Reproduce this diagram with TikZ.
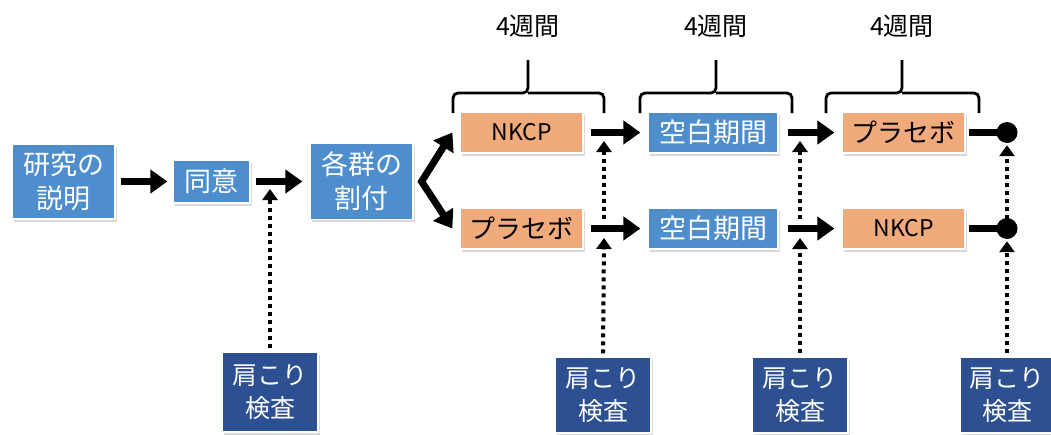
\documentclass[tikz,border=0pt]{standalone}
\usepackage{fontspec}
\setmainfont{Noto Sans CJK JP}
\usetikzlibrary{arrows.meta,shadows}
\definecolor{boxblue}{RGB}{79,142,204}
\definecolor{boxorange}{RGB}{241,170,124}
\definecolor{boxdark}{RGB}{44,80,145}
\tikzset{
  base/.style={draw=white,line width=1.2pt,inner sep=0pt,align=center,
    drop shadow={shadow xshift=2pt,shadow yshift=-2.5pt,opacity=0.3}},
  bluebox/.style={base,fill=boxblue,text=white,font=\fontsize{27}{34}\selectfont},
  orangebox/.style={base,fill=boxorange,text=black,minimum height=41pt},
  jp/.style={font=\fontsize{26}{30}\selectfont},
  lat/.style={font=\fontsize{23}{28}\selectfont},
  darkbox/.style={base,fill=boxdark,text=white,font=\fontsize{25}{33}\selectfont},
  tip/.style={Triangle[length=17pt,width=23pt]},
  bigarrow/.style={line width=7pt,-{Triangle[length=17pt,width=23pt]}},
  thickline/.style={line width=7pt},
  dotarrow/.style={line width=4pt,dash pattern=on 4pt off 4pt,
    -{Triangle[length=11pt,width=15pt]}},
  enddot/.style={circle,fill=black,minimum size=21pt,inner sep=0pt},
  brace/.style={line width=2.8pt,rounded corners=5pt},
  weeks/.style={font=\fontsize{25}{28}\selectfont}
}
\begin{document}
\begin{tikzpicture}[x=1pt,y=-1pt]
\useasboundingbox (0,0) rectangle (1051,434);
% main flow
\node[bluebox,minimum width=103pt,minimum height=75pt] (expl) at (63.5,181.5) {研究の\\説明};
\node[bluebox,minimum width=77pt,minimum height=43pt] (cons) at (211.5,181.5) {同意};
\node[bluebox,minimum width=103pt,minimum height=76pt] (alloc) at (361.5,181.5) {各群の\\割付};
% top row
\node[orangebox,lat,minimum width=123pt] (a1) at (521.5,132.5) {NKCP};
\node[bluebox,minimum width=130pt,minimum height=41pt] (a2) at (713,132.5) {空白期間};
\node[orangebox,jp,minimum width=123pt] (a3) at (903.5,132.5) {プラセボ};
\node[enddot] (ad) at (1007,132.5) {};
% bottom row
\node[orangebox,jp,minimum width=123pt] (b1) at (521.5,228.5) {プラセボ};
\node[bluebox,minimum width=130pt,minimum height=41pt] (b2) at (713,228.5) {空白期間};
\node[orangebox,lat,minimum width=123pt] (b3) at (903.5,228.5) {NKCP};
\node[enddot] (bd) at (1007,228.5) {};
% check boxes
\node[darkbox,minimum width=96pt,minimum height=80pt] (c1) at (270,392) {肩こり\\検査};
\node[darkbox,minimum width=96pt,minimum height=76pt] (c2) at (603,395) {肩こり\\検査};
\node[darkbox,minimum width=96pt,minimum height=76pt] (c3) at (800,395) {肩こり\\検査};
\node[darkbox,minimum width=94pt,minimum height=76pt] (c4) at (1007,395) {肩こり\\検査};
% solid arrows
\draw[bigarrow] ([xshift=5pt]expl.east) -- ([xshift=-5pt]cons.west);
\draw[bigarrow] ([xshift=5pt]cons.east) -- ([xshift=-7pt]alloc.west);
\coordinate (v) at ([xshift=8pt]alloc.east);
\draw[line width=7pt,{Triangle[length=17pt,width=23pt]}-{Triangle[length=17pt,width=23pt]},line join=miter]
  ([xshift=-7pt]a1.west) -- (v) -- ([xshift=-7pt]b1.west);
\draw[bigarrow] ([xshift=7pt]a1.east) -- ([xshift=-7pt]a2.west);
\draw[bigarrow] ([xshift=9pt]a2.east) -- ([xshift=-7pt]a3.west);
\draw[bigarrow] ([xshift=7pt]b1.east) -- ([xshift=-7pt]b2.west);
\draw[bigarrow] ([xshift=9pt]b2.east) -- ([xshift=-7pt]b3.west);
\draw[thickline] ([xshift=3pt]a3.east) -- (ad.center);
\draw[thickline] ([xshift=3pt]b3.east) -- (bd.center);
% dotted arrows
\coordinate (p1) at (270,189);
\draw[dotarrow] ([yshift=3pt]c1.north) -- (p1);
\coordinate (q2a) at (604,238);
\coordinate (q2b) at (604,219);
\coordinate (q2c) at (604,141);
\draw[dotarrow] ([yshift=3pt]c2.north) -- (q2a);
\draw[dotarrow] (q2b) -- (q2c);
\coordinate (q3a) at (800,238);
\coordinate (q3b) at (800,219);
\coordinate (q3c) at (800,141);
\draw[dotarrow] ([yshift=3pt]c3.north) -- (q3a);
\draw[dotarrow] (q3b) -- (q3c);
\draw[dotarrow] ([yshift=3pt]c4.north) -- ([yshift=-2pt]bd.south);
\draw[dotarrow] ([yshift=-1pt]bd.north) -- ([yshift=-2pt]ad.south);
% braces
\draw[brace] (453,113) -- (453,93) -- (528,93) -- (528,60);
\draw[brace] (604,113) -- (604,93) -- (528,93);
\draw[brace] (640,113) -- (640,93) -- (716,93) -- (716,60);
\draw[brace] (792,113) -- (792,93) -- (716,93);
\draw[brace] (826,113) -- (826,93) -- (902,93) -- (902,60);
\draw[brace] (979,113) -- (979,93) -- (902,93);
\node[weeks] (w1) at (528,26) {4週間};
\node[weeks] (w2) at (716,26) {4週間};
\node[weeks] (w3) at (902,26) {4週間};
\end{tikzpicture}
\end{document}
